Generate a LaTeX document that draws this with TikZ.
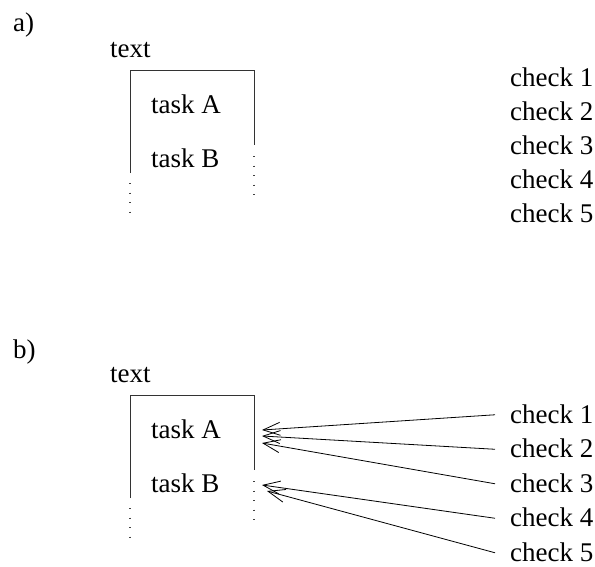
\documentclass[tikz,border=0pt]{standalone}
\usepackage{fontspec}
\setmainfont{Liberation Serif}
\usetikzlibrary{arrows.meta}
\begin{document}
\begin{tikzpicture}[x=1pt,y=-1pt,
  lbl/.style={anchor=base west, inner sep=0pt, font=\fontsize{27}{30}\selectfont},
  chk/.style={lbl, inner xsep=15pt},
  boxline/.style={line width=0.9pt, draw=black!80},
  dotline/.style={line width=1.3pt, draw=black!75, dash pattern=on 1.3pt off 8.2pt},
  ref/.style={line width=0.8pt, -{Straight Barb[length=17pt,width=13pt,line width=0.8pt]}}]
\useasboundingbox (0,0) rectangle (595,566);
% ---------- a) ----------
\node[lbl] (la) at (13,31) {a)};
\node[lbl] (txa) at (110,57) {text};
\node[lbl] (Aa) at (151,113) {task A};
\node[lbl] (Ba) at (151,167) {task B};
\draw[boxline] (130,173) -- (130,70) -- (254,70) -- (254,145);
\draw[dotline] (130,183) -- (130,213);
\draw[dotline] (254,156) -- (254,195);
\foreach \i/\y in {1/86,2/120,3/154,4/188,5/222}
  \node[chk] (ca\i) at (495,\y) {check \i};
% ---------- b) ----------
\node[lbl] (lb) at (13,358) {b)};
\node[lbl] (txb) at (110,382) {text};
\node[lbl] (Ab) at (151,438) {task A};
\node[lbl] (Bb) at (151,492) {task B};
\draw[boxline] (130,498) -- (130,395) -- (254,395) -- (254,470);
\draw[dotline] (130,508) -- (130,538);
\draw[dotline] (254,481) -- (254,520);
\foreach \i/\y in {1/423,2/457.5,3/492,4/526.5,5/561}
  \node[chk] (cb\i) at (495,\y) {check \i};
\coordinate (t1) at (262,430);
\coordinate (t2) at (262,436);
\coordinate (t3) at (262,443);
\coordinate (t4) at (262,485);
\coordinate (t5) at (267,491);
\foreach \i in {1,...,5}
  \draw[ref] ([yshift=-1pt]cb\i.west) -- (t\i);
\end{tikzpicture}
\end{document}
